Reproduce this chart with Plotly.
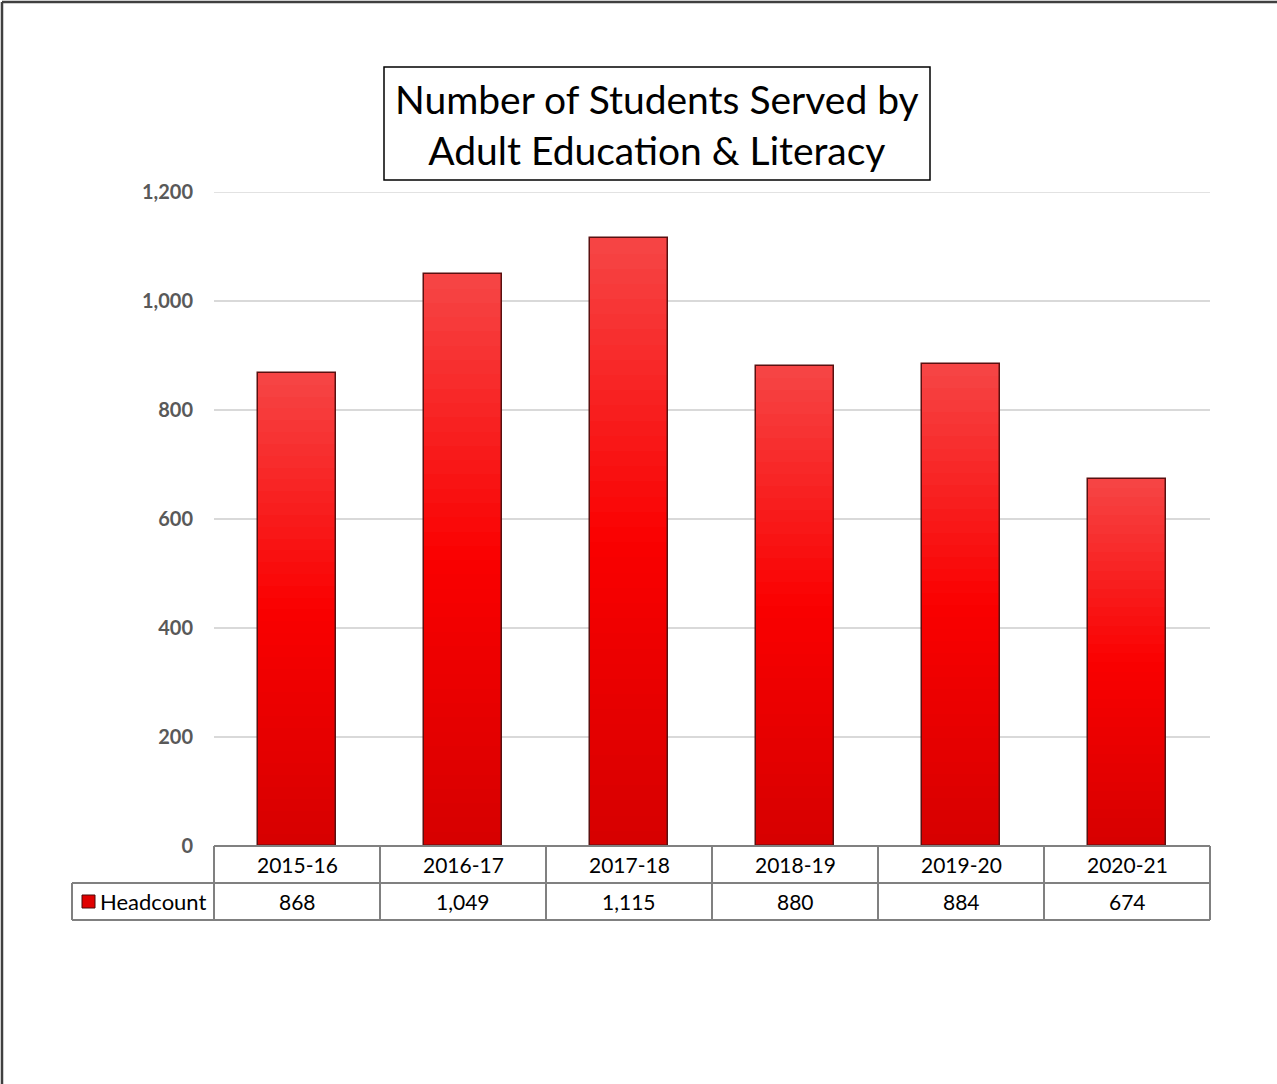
import plotly.graph_objects as go

categories = ["2015-16", "2016-17", "2017-18", "2018-19", "2019-20", "2020-21"]
headcount = [868, 1049, 1115, 880, 884, 674]
series_name = "Headcount"
title_lines = ["Number of Students Served by", "Adult Education & Literacy"]
y_ticks = [0, 200, 400, 600, 800, 1000, 1200]

W, H = 1277, 1084
L, R, T, B = 214, 67, 192, 238
PW, PH = W - L - R, H - T - B
FONT = "Lato, Carlito, 'Liberation Sans', sans-serif"


def px_x(px):
    return (px - L) / PW


def px_y(py):
    return (H - B - py) / PH


def lerp(c1, c2, t):
    return tuple(int(round(a + (b - a) * t)) for a, b in zip(c1, c2))


top_c = (246, 70, 70)
mid_c = (250, 0, 0)
bot_c = (214, 0, 0)

fig = go.Figure()
N = 40
bar_w = 0.465
for k in range(N):
    f = (k + 0.5) / N
    if f > 0.5:
        c = lerp(mid_c, top_c, (f - 0.5) / 0.5)
    else:
        c = lerp(bot_c, mid_c, f / 0.5)
    fig.add_trace(go.Bar(
        x=categories,
        y=[v / N for v in headcount],
        base=[v * k / N for v in headcount],
        width=bar_w,
        marker=dict(color="rgb(%d,%d,%d)" % c, line=dict(width=0)),
        showlegend=False, hoverinfo="skip",
    ))
fig.add_trace(go.Bar(
    x=categories, y=headcount, width=bar_w, name=series_name,
    marker=dict(color="rgba(0,0,0,0)", line=dict(color="#5a1010", width=1.5)),
    showlegend=False,
))

shapes = []
ann = []
gray = "#808080"
row1 = 37
row2 = 74
shapes.append(dict(type="line", xref="paper", yref="y", x0=0, x1=1, y0=y_ticks[-1], y1=y_ticks[-1],
                   line=dict(color="#d9d9d9", width=1.5), layer="below"))
shapes.append(dict(type="line", xref="paper", yref="paper", x0=0, x1=1, y0=px_y(846), y1=px_y(846),
                   line=dict(color=gray, width=2)))
for py in (846 + row1, 846 + row2):
    shapes.append(dict(type="line", xref="paper", yref="paper", x0=px_x(72), x1=1, y0=px_y(py), y1=px_y(py),
                       line=dict(color=gray, width=2)))
n = len(categories)
for i in range(n + 1):
    shapes.append(dict(type="line", xref="paper", yref="paper", x0=i / n, x1=i / n,
                       y0=px_y(846), y1=px_y(846 + row2), line=dict(color=gray, width=2)))
shapes.append(dict(type="line", xref="paper", yref="paper", x0=px_x(72), x1=px_x(72),
                   y0=px_y(846 + row1), y1=px_y(846 + row2), line=dict(color=gray, width=2)))

for i, (cat, v) in enumerate(zip(categories, headcount)):
    ann.append(dict(x=cat, xref="x", yref="paper", y=px_y(846 + row1 / 2), text=cat, showarrow=False,
                    font=dict(family=FONT, size=21, color="#000000"), xanchor="center", yanchor="middle"))
    ann.append(dict(x=cat, xref="x", yref="paper", y=px_y(846 + row1 + row1 / 2), text=f"{v:,}", showarrow=False,
                    font=dict(family=FONT, size=21, color="#000000"), xanchor="center", yanchor="middle"))

shapes.append(dict(type="rect", xref="paper", yref="paper", x0=px_x(82), x1=px_x(95), y0=px_y(908), y1=px_y(895),
                   fillcolor="#e00000", line=dict(color="#4a0a0a", width=1)))
ann.append(dict(x=px_x(98), xref="paper", yref="paper", y=px_y(846 + row1 + row1 / 2), text=series_name,
                showarrow=False, xanchor="left", yanchor="middle",
                font=dict(family=FONT, size=22, color="#000000")))

shapes.append(dict(type="rect", xref="paper", yref="paper", x0=px_x(384), x1=px_x(930), y0=px_y(180), y1=px_y(67),
                   line=dict(color="#000000", width=1.5), fillcolor="white"))
ann.append(dict(x=px_x(657), y=px_y(124), xref="paper", yref="paper", text="<br>".join(title_lines),
                showarrow=False, xanchor="center", yanchor="middle",
                font=dict(family=FONT, size=39, color="#000000")))

# outer frame: only left and top edges are within the picture
shapes.append(dict(type="line", xref="paper", yref="paper", x0=px_x(2), x1=px_x(2), y0=px_y(1090), y1=px_y(2),
                   line=dict(color="#404040", width=2.5)))
shapes.append(dict(type="line", xref="paper", yref="paper", x0=px_x(2), x1=px_x(1290), y0=px_y(2), y1=px_y(2),
                   line=dict(color="#404040", width=2.5)))

fig.update_layout(
    width=W, height=H,
    margin=dict(l=L, r=R, t=T, b=B, autoexpand=False),
    paper_bgcolor="white", plot_bgcolor="white",
    barmode="overlay", bargap=0,
    shapes=shapes, annotations=ann,
    xaxis=dict(showticklabels=False, showgrid=False, zeroline=False, showline=False, ticks=""),
    yaxis=dict(range=[0, 1200], tickvals=y_ticks, ticktext=[f"<b>{t:,}</b>" for t in y_ticks],
               showgrid=True, gridcolor="#d9d9d9", gridwidth=1.5, zeroline=False, showline=False,
               tickfont=dict(family=FONT, size=20, color="#595959"),
               ticks="", ticklabelstandoff=20),
    font=dict(family=FONT),
)

fig.write_html("out.html", config={"displayModeBar": False},
               post_script="document.body.style.margin='0';document.body.style.padding='0';")
